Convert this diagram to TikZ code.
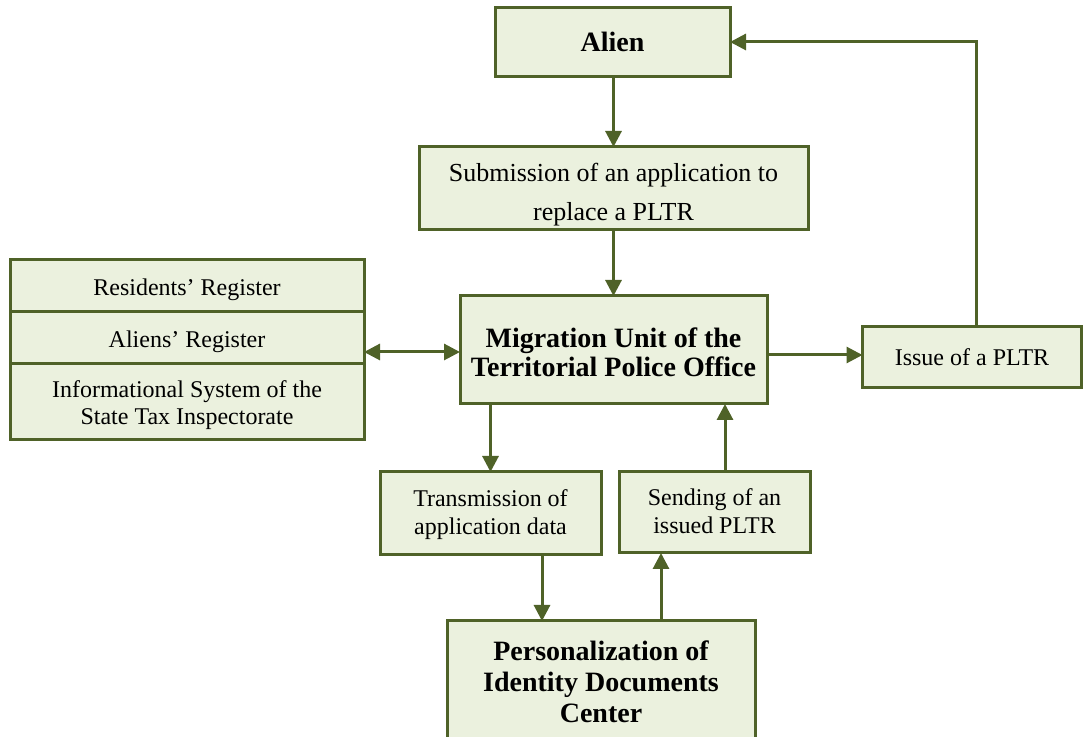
\documentclass[tikz,border=0pt]{standalone}
\usepackage{fontspec}
\setmainfont{Liberation Serif}
\usetikzlibrary{arrows.meta}
\definecolor{boxfill}{HTML}{EBF1DE}
\definecolor{boxline}{HTML}{4F6228}
\newcommand{\upr}[1]{\rule{0pt}{#1}}
\tikzset{
  box/.style={draw=boxline, fill=boxfill, line width=1.5pt, inner sep=2pt, outer sep=0pt, align=center, text=black},
  bl/.style={text height=#1, text depth=0pt},
  conn/.style={draw=boxline, line width=1.5pt, -{Triangle[length=8pt,width=8pt]}},
  dconn/.style={draw=boxline, line width=1.5pt, {Triangle[length=8pt,width=8pt]}-{Triangle[length=8pt,width=8pt]}},
  rg/.style={font=\fontsize{12}{13.5}\selectfont},
  bd/.style={font=\fontsize{14}{14.5}\selectfont\bfseries},
}
\begin{document}
\begin{tikzpicture}[x=0.5pt,y=-0.5pt]
\useasboundingbox (0,0) rectangle (1083,737);
\node[box,bd,minimum width=117.5pt,minimum height=34.5pt] (alien) at (612.5,42) {Alien};
\node[box,font=\fontsize{13}{19.5}\selectfont,bl=32.1pt,minimum width=194.5pt,minimum height=41.5pt] (sub) at (613.5,188.5) {Submission of an application to\\replace a PLTR};
\node[box,rg,minimum width=177pt,minimum height=26pt] (reg1) at (187,286) {\upr{12.2pt}Residents’ Register};
\node[box,rg,minimum width=177pt,minimum height=26pt] (reg2) at (187,338) {\upr{12.2pt}Aliens’ Register};
\node[box,rg,bl=22.9pt,minimum width=177pt,minimum height=38pt] (reg3) at (187,402) {Informational System of the\\State Tax Inspectorate};
\node[box,bd,bl=26.2pt,minimum width=153.5pt,minimum height=54pt] (mig) at (613.5,350) {Migration Unit of the\\Territorial Police Office};
\node[box,rg,minimum width=109.5pt,minimum height=30.5pt] (issue) at (972,357) {Issue of a PLTR};
\node[box,font=\fontsize{12}{14}\selectfont,bl=21.4pt,minimum width=110.5pt,minimum height=41.5pt] (trans) at (490.5,513.5) {Transmission of\\application data};
\node[box,font=\fontsize{12}{14}\selectfont,bl=21.4pt,minimum width=95.5pt,minimum height=40.5pt] (send) at (714.5,512.5) {Sending of an\\issued PLTR};
\node[box,font=\fontsize{14}{15.5}\selectfont\bfseries,bl=39.7pt,minimum width=154pt,minimum height=61.5pt] (pers) at (601,682.5) {Personalization of\\Identity Documents\\Center};
\coordinate (xa) at (976,0);
\coordinate (xb) at (725,0);
\coordinate (xc) at (542,0);
\coordinate (xd) at (661,0);
\coordinate (ya) at (0,352);
\coordinate (yb) at (0,355);
\draw[conn] (alien.south -| sub.north) -- (sub.north);
\draw[conn] (sub.south) -- (sub.south |- mig.north);
\draw[dconn] (reg2.east |- ya) -- (mig.west |- ya);
\draw[conn] (mig.east |- yb) -- (issue.west |- yb);
\draw[conn] (issue.north -| xa) |- (alien.east);
\draw[conn] (trans.north |- mig.south) -- (trans.north);
\draw[conn] (send.north -| xb) -- (mig.south -| xb);
\draw[conn] (trans.south -| xc) -- (pers.north -| xc);
\draw[conn] (pers.north -| xd) -- (send.south -| xd);
\end{tikzpicture}
\end{document}
